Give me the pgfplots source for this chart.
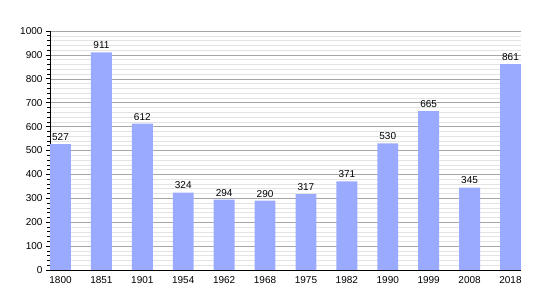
\documentclass[border=0pt]{standalone}
\usepackage{pgfplots}
\pgfplotsset{compat=1.18}
\usepackage{fontspec}
\setmainfont{Liberation Sans}
\definecolor{barc}{HTML}{99AAFF}
\begin{document}
\fontsize{10}{12}\selectfont
\begin{tikzpicture}
\useasboundingbox (-50pt,-30pt) rectangle (500pt,270pt);
\begin{axis}[
  at={(0,0)}, anchor=south west,
  scale only axis, width=471pt, height=239pt,
  xmin=-0.257, xmax=11.257, ymin=0, ymax=1000,
  axis x line*=bottom, axis y line*=left,
  axis line style={black, line width=0.8pt, -},
  xtick=data,
  xticklabels={1800,1851,1901,1954,1962,1968,1975,1982,1990,1999,2008,2018},
  x tick style={draw=none},
  ytick={0,100,...,1000},
  minor y tick num=4,
  ymajorgrids, yminorgrids,
  major grid style={gray!70, line width=0.5pt},
  minor grid style={gray!22, line width=0.5pt},
  y tick style={black, line width=0.6pt},
  major tick length=4pt, minor tick length=2.5pt,
  tick align=outside,
  /pgf/number format/assume math mode=true,
  /pgf/number format/1000 sep={},
  tick label style={font=\fontsize{10}{12}\selectfont},
  xticklabel style={yshift=1pt},
  nodes near coords,
  nodes near coords style={font=\fontsize{10}{12}\selectfont, black, /pgf/number format/assume math mode=true, /pgf/number format/1000 sep={}},
  clip=false,
]
\addplot[ybar, bar width=0.51, fill=barc, draw=none, bar shift=0pt] coordinates {
(0,527) (1,911) (2,612) (3,324) (4,294) (5,290) (6,317) (7,371) (8,530) (9,665) (10,345) (11,861)
};
\end{axis}
\end{tikzpicture}
\end{document}
